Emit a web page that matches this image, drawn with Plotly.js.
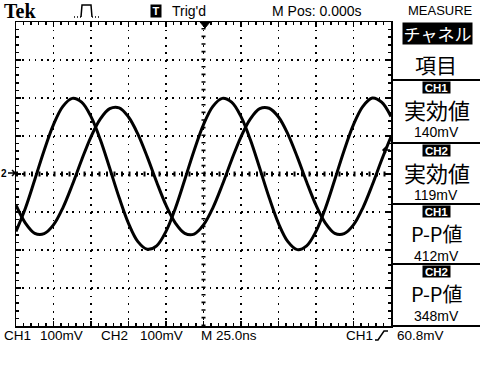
<!DOCTYPE html>
<html><head><meta charset="utf-8">
<script src="https://cdn.plot.ly/plotly-3.0.1.min.js"></script>
<style>html,body{margin:0;padding:0;background:#fff;}#chart{width:480px;height:367px;}</style>
</head><body><div id="chart"></div>
<script>
// time in ns (25 ns/div), voltages in V (100 mV/div)
const timeNs = [-125,-118.75,-112.5,-106.25,-100,-93.75,-87.5,-81.25,-75,-68.75,-62.5,-56.25,-50,-43.75,-37.5,-31.25,-25,-18.75,-12.5,-6.25,0,6.25,12.5,18.75,25,31.25,37.5,43.75,50,56.25,62.5,68.75,75,81.25,87.5,93.75,100,106.25,112.5,118.75,125];
const ch1 = [-0.151,-0.090,-0.015,0.062,0.130,0.178,0.199,0.189,0.151,0.090,0.015,-0.062,-0.130,-0.178,-0.198,-0.189,-0.151,-0.090,-0.015,0.062,0.130,0.178,0.199,0.189,0.151,0.090,0.015,-0.062,-0.130,-0.178,-0.199,-0.189,-0.151,-0.090,-0.015,0.062,0.130,0.178,0.200,0.189,0.151];
const ch2 = [-0.082,-0.129,-0.156,-0.157,-0.134,-0.089,-0.029,0.037,0.098,0.145,0.172,0.174,0.150,0.105,0.045,-0.021,-0.082,-0.129,-0.156,-0.158,-0.134,-0.089,-0.029,0.037,0.098,0.145,0.172,0.173,0.150,0.105,0.045,-0.021,-0.082,-0.129,-0.156,-0.157,-0.134,-0.089,-0.029,0.037,0.098];
const topTexts = {scope:"Tek", trig:"Trig'd", pos:"M Pos: 0.000s", menu:"MEASURE"};
const panelTitle = ["チャネル", "項目"];
const measChannels = ["CH1", "CH2", "CH1", "CH2"];
const measNames = ["実効値", "実効値", "P-P値", "P-P値"];
const measValues = ["140mV", "119mV", "412mV", "348mV"];
const bottomTexts = ["CH1", "100mV", "CH2", "100mV", "M 25.0ns", "CH1", "60.8mV"];

const PX = x => (x-16)/375, PY = y => (326-y)/304;
const P = (x,y) => PX(x)+','+PY(y);
const SANS = "Liberation Sans, Arial, sans-serif";
const JP = "Noto Sans CJK JP, sans-serif";
const ann = [];
function A(text, x, y, size, o) {
  o = o || {};
  ann.push(Object.assign({text:text, xref:'paper', yref:'paper', x:PX(x), y:PY(y), showarrow:false,
    xanchor:o.xa||'center', yanchor:'middle', font:{family:o.fam||SANS, size:size, color:o.col||'#000'}},
    o.bg ? {bgcolor:o.bg, width:o.w, height:o.h, borderpad:0} : {}));
}
// top bar
A('<b>'+topTexts.scope+'</b>', 2, 11, 20, {xa:'left', fam:'Liberation Serif, serif'});
A('<b>T</b>', 156, 10.5, 11, {col:'#fff', bg:'#000', w:10, h:12});
A(topTexts.trig, 170, 10.5, 14, {xa:'left'});
A(topTexts.pos, 270, 10.5, 14, {xa:'left'});
A(topTexts.menu, 406, 10.5, 13, {xa:'left'});
// right panel
A(panelTitle[0], 437, 33.5, 17, {fam:JP, col:'#fff', bg:'#000', w:69, h:21});
A(panelTitle[1], 436, 64, 21, {fam:JP});
const blockTop = [80, 143, 204, 264];
for (let i=0;i<4;i++){
  const t = blockTop[i];
  A('<b>'+measChannels[i]+'</b>', 436, t+7.5, 11.5, {col:'#fff', bg:'#000', w:27, h:11});
  A(measNames[i], 437, t+29, i<2 ? 22 : 20, {fam:JP});
  A(measValues[i], 436, t+52, 14);
}
// bottom bar
const bx = [2, 38, 99, 138, 199, 344, 395];
bottomTexts.forEach((t,i)=>A(t, bx[i], 335.5, 13.5, {xa:'left'}));
// left ground marker
A('<b>2</b>', 4, 173, 10);

const shapes = [];
// center graticule lines with tick marks
shapes.push({type:'line', xref:'x', yref:'y', x0:-125, x1:125, y0:0, y1:0, line:{color:'#000', width:5, dash:'2px,5.5px'}});
shapes.push({type:'line', xref:'x', yref:'y', x0:0, x1:0, y0:-0.4, y1:0.4, line:{color:'#000', width:4, dash:'1.6px,6px'}});
// panel separators
[80,143,204,264,326].forEach(y=>shapes.push({type:'line', xref:'paper', yref:'paper', x0:PX(391), x1:PX(480), y0:PY(y), y1:PY(y), line:{color:'#000', width:2}}));
// acquisition icon
shapes.push({type:'path', xref:'paper', yref:'paper', path:'M'+P(74,17)+' L'+P(81,17), line:{color:'#000', width:1.5, dash:'1px,2px'}});
shapes.push({type:'path', xref:'paper', yref:'paper', path:'M'+P(81,17)+' L'+P(82,5)+' L'+P(91,5)+' L'+P(92,17), line:{color:'#000', width:1.5}});
shapes.push({type:'path', xref:'paper', yref:'paper', path:'M'+P(92,17)+' L'+P(100,17), line:{color:'#000', width:1.5, dash:'1px,2px'}});
// trigger position marker
shapes.push({type:'path', xref:'paper', yref:'paper', path:'M'+P(200,22)+' L'+P(210,22)+' L'+P(205,28)+' Z', fillcolor:'#000', line:{color:'#000', width:1}});
// trigger level marker
shapes.push({type:'path', xref:'paper', yref:'paper', path:'M'+P(390,150)+' L'+P(383,150)+' M'+P(386,147)+' L'+P(383,150)+' L'+P(386,153), line:{color:'#000', width:1.5}});
// ground marker arrow
shapes.push({type:'path', xref:'paper', yref:'paper', path:'M'+P(8,173)+' L'+P(15,173)+' M'+P(12,170)+' L'+P(15,173)+' L'+P(12,176), line:{color:'#000', width:1.5}});
// slope symbol
shapes.push({type:'path', xref:'paper', yref:'paper', path:'M'+P(375,340)+' L'+P(378,340)+' L'+P(384,331)+' L'+P(388,331), line:{color:'#000', width:1.5}});

const axBase = {showline:true, linecolor:'#000', linewidth:1.5, mirror:'allticks', ticks:'inside', tickcolor:'#000',
  tickwidth:1.5, showticklabels:false, zeroline:false, showgrid:true, gridcolor:'#000', gridwidth:1.7, fixedrange:true};

const traces = [
  {x:timeNs, y:ch1, name:'CH1', type:'scatter', mode:'lines', line:{color:'#000', width:3, shape:'spline'}},
  {x:timeNs, y:ch2, name:'CH2', type:'scatter', mode:'lines', line:{color:'#000', width:3, shape:'spline'}}
];
const layout = {
  width:480, height:367, margin:{l:16, r:89, t:22, b:41},
  paper_bgcolor:'#fff', plot_bgcolor:'#fff', showlegend:false,
  xaxis:Object.assign({}, axBase, {range:[-125,125], tick0:0, dtick:25, ticklen:5, griddash:'1.7px,5.9px',
    minor:{tick0:0, dtick:5, ticks:'inside', ticklen:3, tickwidth:1.5, tickcolor:'#000', showgrid:false}}),
  yaxis:Object.assign({}, axBase, {range:[-0.4,0.4], tick0:0, dtick:0.1, ticklen:5, griddash:'1.7px,4.55px',
    minor:{tick0:0, dtick:0.02, ticks:'inside', ticklen:3, tickwidth:1.5, tickcolor:'#000', showgrid:false}}),
  annotations:ann, shapes:shapes
};
Plotly.newPlot('chart', traces, layout, {displayModeBar:false, staticPlot:true});
</script></body></html>
